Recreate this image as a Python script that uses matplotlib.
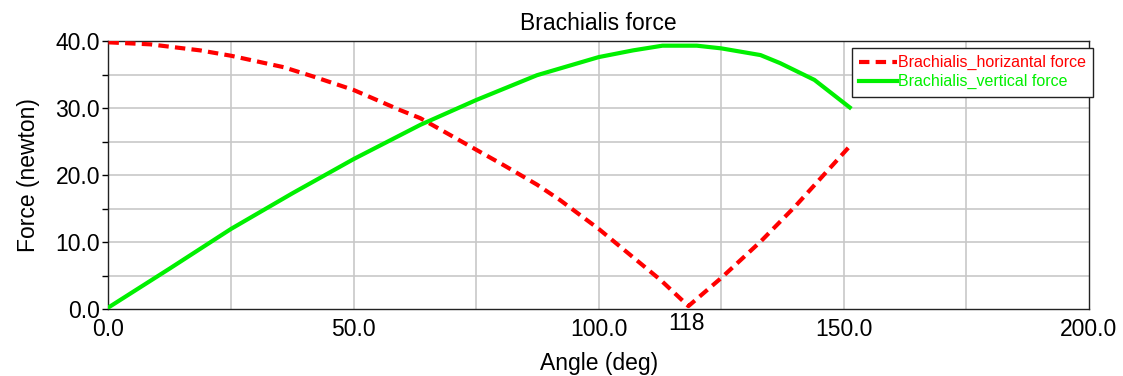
import matplotlib

matplotlib.use("Agg")
import matplotlib.pyplot as plt
from matplotlib.ticker import MultipleLocator

plt.rcParams["font.family"] = ["Liberation Sans", "DejaVu Sans"]

# Brachialis force components over elbow angle
angle_h = [0, 8.5, 18.7, 25, 35.7, 41.8, 50, 59.5, 63.6, 75, 80.6, 87.4, 92.1,
           100, 112.6, 118.3, 125, 133, 140, 151.3]
force_h = [39.8, 39.5, 38.6, 37.8, 36.1, 34.7, 32.7, 29.7, 28.5, 23.8, 21.5, 18.6, 16.3,
           12.0, 4.4, 0.5, 4.7, 10.1, 15.3, 24.4]

angle_v = [0, 12.5, 25, 37.5, 50, 63.6, 75, 87.4, 100, 107, 113, 120, 125, 133,
           137, 144, 151.2]
force_v = [0.3, 6.1, 12.0, 17.3, 22.4, 27.5, 31.2, 34.9, 37.6, 38.6, 39.3, 39.3, 38.9, 37.9,
           36.7, 34.2, 30.1]

x_ticks = [0, 50, 100, 118, 150, 200]
x_tick_labels = ["0.0", "50.0", "100.0", "118", "150.0", "200.0"]
y_ticks = [0, 10, 20, 30, 40]
y_tick_labels = ["0.0", "10.0", "20.0", "30.0", "40.0"]

fig = plt.figure(figsize=(11.23, 3.76), dpi=100)
ax = fig.add_axes([0.0966, 0.177, 0.8731, 0.714])

# light grid every 25 deg and every 5 N
for gx in range(25, 200, 25):
    ax.axvline(gx, color="#c8c8c8", lw=1.2, zorder=0)
for gy in range(5, 40, 5):
    ax.axhline(gy, color="#c8c8c8", lw=1.2, zorder=0)

red, = ax.plot(angle_h, force_h, color="#ff0000", lw=3.0, ls=(0, (2.5, 1.5)),
               label="Brachialis_horizantal force", zorder=3)
green, = ax.plot(angle_v, force_v, color="#00f000", lw=3.0,
                 label="Brachialis_vertical force", zorder=3)

ax.set_xlim(0, 200)
ax.set_ylim(0, 40)
ax.set_xticks(x_ticks)
ax.set_xticklabels(x_tick_labels)
ax.set_yticks(y_ticks)
ax.set_yticklabels(y_tick_labels)
ax.yaxis.set_minor_locator(MultipleLocator(5))
ax.tick_params(axis="x", length=0, pad=6, labelsize=16.5)
ax.tick_params(axis="y", which="both", length=4, width=1, pad=2, labelsize=16.5)
ax.xaxis.get_major_ticks()[3].set_pad(2)

for side in ax.spines.values():
    side.set_linewidth(1.0)
    side.set_color("#222222")

ax.set_xlabel("Angle (deg)", fontsize=16.5, labelpad=8)
ax.set_ylabel("Force (newton)", fontsize=16.5, labelpad=11)
ax.set_title("Brachialis force", fontsize=16.5, pad=8)

leg = ax.legend(loc="upper right", bbox_to_anchor=(0.9733, 0.8723),
                bbox_transform=fig.transFigure, borderaxespad=0,
                fancybox=False, framealpha=1, edgecolor="#222222",
                fontsize=11.5, handlelength=2.4, handletextpad=0.05,
                labelspacing=0.25, borderpad=0.45)
leg.get_frame().set_linewidth(1.0)
for txt, line in zip(leg.get_texts(), [red, green]):
    txt.set_color(line.get_color())

fig.savefig("out.png", dpi=100)
